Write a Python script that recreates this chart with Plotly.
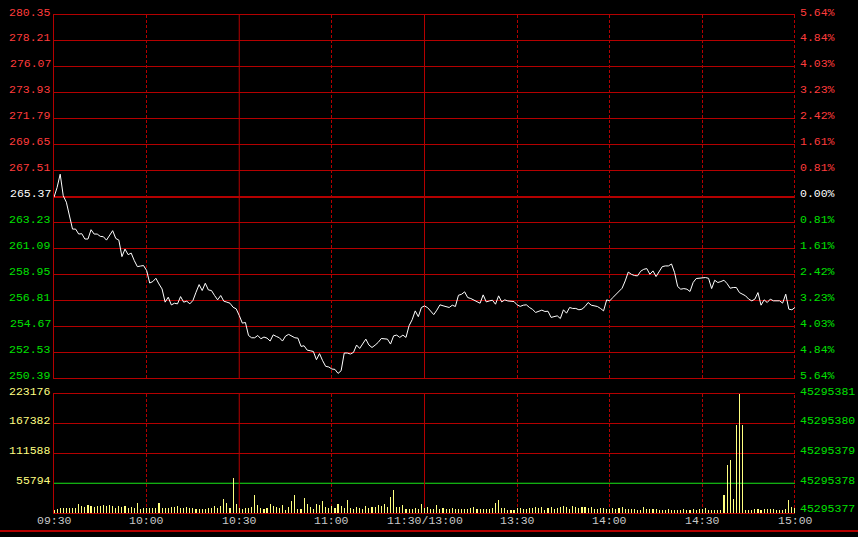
import plotly.graph_objects as go

# ---------------- data ----------------
minutes = list(range(241))  # 0 = 09:30 ... 240 = 15:00 (lunch break removed)

price = [
    265.31, 266.11, 267.21, 265.43, 264.90, 263.64, 262.68, 262.68, 262.27, 262.30,
    261.86, 261.86, 262.63, 262.27, 262.27, 262.08, 262.05, 261.77, 262.13, 262.55,
    261.91, 261.77, 260.41, 261.03, 260.57, 260.70, 260.08, 259.58, 259.63, 259.67,
    259.26, 258.23, 258.35, 258.62, 258.15, 257.74, 256.65, 257.06, 256.42, 256.56,
    256.51, 257.11, 256.65, 256.73, 256.51, 256.79, 257.47, 258.10, 257.61, 258.21,
    257.66, 257.61, 257.20, 256.84, 257.20, 256.73, 256.65, 256.56, 256.23, 256.10,
    255.55, 254.92, 254.97, 253.90, 253.71, 253.71, 253.90, 253.63, 253.77, 253.68,
    253.44, 253.95, 253.82, 253.71, 253.44, 253.85, 253.99, 253.82, 253.71, 253.68,
    253.00, 253.05, 252.69, 252.64, 252.58, 251.90, 252.40, 251.82, 251.35, 251.30,
    251.13, 251.10, 250.77, 250.99, 252.45, 252.45, 252.37, 252.50, 253.11, 252.83,
    253.24, 253.60, 253.11, 252.91, 253.10, 253.33, 253.65, 253.60, 253.60, 253.19,
    253.87, 253.93, 253.74, 253.93, 253.74, 254.70, 255.20, 255.93, 255.45, 256.21,
    256.34, 256.20, 255.93, 255.62, 255.99, 256.43, 256.35, 256.26, 256.21, 256.40,
    256.29, 257.22, 257.30, 257.50, 257.03, 256.95, 256.84, 256.67, 256.56, 257.25,
    256.67, 256.75, 256.81, 256.48, 257.17, 256.67, 256.84, 256.75, 256.73, 256.70,
    256.43, 256.30, 256.40, 256.43, 256.21, 256.05, 255.80, 255.92, 255.99, 255.88,
    255.90, 255.39, 255.44, 255.52, 255.30, 256.02, 255.74, 256.21, 256.13, 256.13,
    256.02, 256.07, 256.29, 256.62, 256.40, 256.35, 256.29, 256.13, 255.93, 256.84,
    256.76, 257.03, 257.31, 257.53, 257.80, 258.40, 259.13, 258.95, 258.85, 258.82,
    259.20, 259.36, 259.42, 258.95, 259.23, 258.76, 259.14, 259.58, 259.64, 259.64,
    259.80, 259.09, 257.94, 257.72, 257.77, 257.72, 257.53, 258.27, 258.60, 258.62,
    258.68, 258.68, 258.62, 257.77, 258.46, 258.27, 258.35, 258.46, 258.18, 257.80,
    257.86, 257.86, 257.44, 257.31, 257.17, 256.90, 256.76, 256.90, 257.44, 256.40,
    256.84, 256.62, 256.90, 256.76, 256.76, 256.76, 256.57, 257.31, 256.07, 256.02,
    256.21,
]

volume = [
    # 09:30 - 10:00
    5600, 8100, 8800, 8800, 10000, 8800, 10000, 10000, 16300, 13800,
    11900, 14400, 13100, 10600, 13100, 13800, 14400, 13100, 14400, 13100,
    9400, 13100, 11900, 13100, 10000, 11900, 10000, 19400, 8100,
    # 10:00 - 10:30
    8800, 8800, 8800, 8800, 8800, 18100, 8800, 8800, 10000, 11900,
    11900, 13100, 8800, 8800, 11300, 10000, 10000, 6900, 6900, 6900,
    8100, 8800, 8800, 13100, 10000, 13100, 26300, 19400, 8800, 65600, 16300,
    # 10:30 - 10:44
    8800, 8100, 10000, 8800, 11900, 33800, 14400, 8800, 8100, 8800,
    16900, 13100, 11900, 9400,
    # 10:44 - 14:00
    15000, 5600, 11900, 22500, 33800, 7500, 7500, 28800, 16900, 11900,
    8100, 16900, 15000, 23100, 11900, 8800, 13800, 8800, 17500, 13800,
    10000, 25000, 8800, 7500, 11900, 8800, 6900, 13800, 9400, 11900,
    10600, 15600, 13100, 16900, 11900, 30600, 43800, 10600, 11900, 15600,
    8100, 8100, 6900, 8800, 7500, 16900, 8800, 11900, 6900, 8100,
    14400, 6900, 8800, 8100, 6900, 9400, 8100, 8100,
    8100, 7500, 8100, 10000, 11900, 7500, 8100, 7500, 8100, 7500,
    8800, 19400, 24400, 10000, 8800, 5600, 5600, 5600, 8800, 8800,
    8100, 8100, 8800, 8800, 11900, 8800, 11900, 5600, 8800, 11300,
    8100, 8800, 11900, 13800, 11900, 6900, 13100, 10600, 10000, 11900,
    10600, 8800, 10600, 7500, 8100, 8800, 8800, 6900, 6900, 10000,
    6900, 9400, 10600, 8100, 8100, 8100, 6900, 5600,
    # 14:00 - 15:00
    5600, 11300, 6900, 6900, 6900, 6900, 5600, 5600, 5600, 6900,
    5600, 5600, 5600, 5600, 6900, 5600, 5600, 6900, 5600, 6900,
    8100, 10000, 5600, 5600, 5600, 5600, 5600,
    33800, 90000, 99400, 26300, 165000, 222500, 165000,
    5600, 5600, 5600, 6900, 6900, 5600, 6900, 6900, 6900, 6900,
    5600, 5600, 5600, 6900, 24400, 11300, 10000,
]

prev_close = 265.37
price_ticks = [280.35, 278.21, 276.07, 273.93, 271.79, 269.65, 267.51, 265.37,
               263.23, 261.09, 258.95, 256.81, 254.67, 252.53, 250.39]
pct_labels = ["5.64%", "4.84%", "4.03%", "3.23%", "2.42%", "1.61%", "0.81%", "0.00%",
              "0.81%", "1.61%", "2.42%", "3.23%", "4.03%", "4.84%", "5.64%"]
vol_ticks = [223176, 167382, 111588, 55794, 0]
vol_left_labels = ["223176", "167382", "111588", "55794", ""]
vol_right_labels = ["45295381", "45295380", "45295379", "45295378", "45295377"]
vol_mark = 55794
time_ticks = [0, 30, 60, 90, 120, 150, 180, 210, 240]
time_labels = ["09:30", "10:00", "10:30", "11:00", "11:30/13:00",
               "13:30", "14:00", "14:30", "15:00"]
solid_times = [60, 120]
dashed_times = [30, 90, 150, 180, 210]
end_time = 240

# ---------------- style ----------------
FONT = "Liberation Mono, DejaVu Sans Mono, monospace"
GRID = "#b40000"
GREEN_LINE = "#18e818"
RED_TXT = "#ff3c3c"
GREEN_TXT = "#00e000"
YEL_TXT = "#ffff80"
FS = 11.5
DASH = "3px,2px"

W, H = 858, 537
ML, MR, MT, MB = 54, 63, 15, 24
plot_h = H - MT - MB            # 498
main_bottom = (513 - 378) / plot_h
vol_top = (513 - 394) / plot_h

fig = go.Figure()
fig.add_trace(go.Scatter(x=minutes, y=price, mode="lines", xaxis="x", yaxis="y",
                         line=dict(color="#ffffff", width=1), hoverinfo="skip"))
fig.add_trace(go.Bar(x=minutes, y=volume, xaxis="x2", yaxis="y2", width=0.36,
                     marker=dict(color="#ffff80", line=dict(width=0)), hoverinfo="skip"))

shapes = [
    # second pixel row of the thick previous-close line
    dict(type="line", xref="x", yref="y", x0=0, x1=end_time,
         ysizemode="pixel", yanchor=prev_close, y0=-1, y1=-1,
         line=dict(color=GRID, width=1), layer="below"),
    # green marker line in volume panel
    dict(type="line", xref="x2", yref="y2", x0=0, x1=end_time, y0=vol_mark, y1=vol_mark,
         line=dict(color=GREEN_LINE, width=1), layer="below"),
    # bottom separator line across the whole picture
    dict(type="line", xref="paper", yref="paper",
         x0=-ML / (W - ML - MR), x1=(W - ML) / (W - ML - MR),
         y0=-18 / plot_h, y1=-18 / plot_h,
         line=dict(color=GRID, width=2)),
]
for t in solid_times:
    shapes.append(dict(type="line", xref="x", yref="y", x0=t, x1=t,
                       y0=price_ticks[-1], y1=price_ticks[0],
                       line=dict(color=GRID, width=1), layer="below"))
    shapes.append(dict(type="line", xref="x2", yref="y2", x0=t, x1=t,
                       y0=0, y1=vol_ticks[0],
                       line=dict(color=GRID, width=1), layer="below"))
# dashed right edge
shapes.append(dict(type="line", xref="x", yref="y", xsizemode="pixel", xanchor=end_time,
                   x0=-0.5, x1=-0.5, y0=price_ticks[-1], y1=price_ticks[0],
                   line=dict(color=GRID, width=1, dash=DASH), layer="below"))
shapes.append(dict(type="line", xref="x2", yref="y2", xsizemode="pixel", xanchor=end_time,
                   x0=-0.5, x1=-0.5, y0=0, y1=vol_ticks[0],
                   line=dict(color=GRID, width=1, dash=DASH), layer="below"))

annotations = []
for p, pl in zip(price_ticks, pct_labels):
    if abs(p - prev_close) < 1e-9:
        col = "#ffffff"
    elif p > prev_close:
        col = RED_TXT
    else:
        col = GREEN_TXT
    annotations.append(dict(x=0, xref="paper", y=p, yref="y", text=f"{p:.2f}",
                            xanchor="right", yanchor="middle", xshift=-1, yshift=3,
                            showarrow=False, font=dict(family=FONT, size=FS, color=col)))
    annotations.append(dict(x=1, xref="paper", y=p, yref="y", text=pl,
                            xanchor="left", yanchor="middle", xshift=3, yshift=3,
                            showarrow=False, font=dict(family=FONT, size=FS, color=col)))
for v, ll, rl in zip(vol_ticks, vol_left_labels, vol_right_labels):
    if ll:
        annotations.append(dict(x=0, xref="paper", y=v, yref="y2", text=ll,
                                xanchor="right", yanchor="middle", xshift=-1, yshift=3,
                                showarrow=False, font=dict(family=FONT, size=FS, color=YEL_TXT)))
    annotations.append(dict(x=1, xref="paper", y=v, yref="y2", text=rl,
                            xanchor="left", yanchor="middle", xshift=3,
                            yshift=3 if v > 0 else 5,
                            showarrow=False, font=dict(family=FONT, size=FS, color=GREEN_TXT)))
for t, lab in zip(time_ticks, time_labels):
    annotations.append(dict(x=t, xref="x2", y=(513 - 520) / plot_h, yref="paper", text=lab,
                            xanchor="center", yanchor="middle", showarrow=False,
                            font=dict(family=FONT, size=FS, color="#c8c8c8")))

base = dict(zeroline=False, showticklabels=False, ticks="", fixedrange=True,
            tickmode="array", gridwidth=1, gridcolor=GRID, showgrid=True,
            linecolor=GRID, linewidth=1)
fig.update_layout(
    width=W, height=H, autosize=False,
    margin=dict(l=ML, r=MR, t=MT, b=MB, pad=0),
    paper_bgcolor="#000000", plot_bgcolor="#000000",
    showlegend=False, bargap=0,
    # main panel
    xaxis=dict(domain=[0, 1], range=[0, end_time], anchor="y", tickvals=dashed_times,
               griddash=DASH, showline=True, mirror=True, **base),
    yaxis=dict(domain=[main_bottom, 1], range=[price_ticks[-1], price_ticks[0]],
               anchor="x", tickvals=price_ticks, showline=True, mirror=False, **base),
    # volume panel
    xaxis2=dict(domain=[0, 1], range=[0, end_time], anchor="y2", tickvals=dashed_times,
                griddash=DASH, showline=True, mirror=True, **base),
    yaxis2=dict(domain=[0, vol_top], range=[0, vol_ticks[0]], anchor="x2",
                tickvals=[v for v in vol_ticks if v != vol_mark], showline=True,
                mirror=False, **base),
    shapes=shapes, annotations=annotations,
)

fig.write_html(
    "out.html",
    config={"displayModeBar": False, "staticPlot": True},
    post_script="document.body.style.margin='0px';document.body.style.background='#000';"
                "document.body.style.overflow='hidden';",
)
